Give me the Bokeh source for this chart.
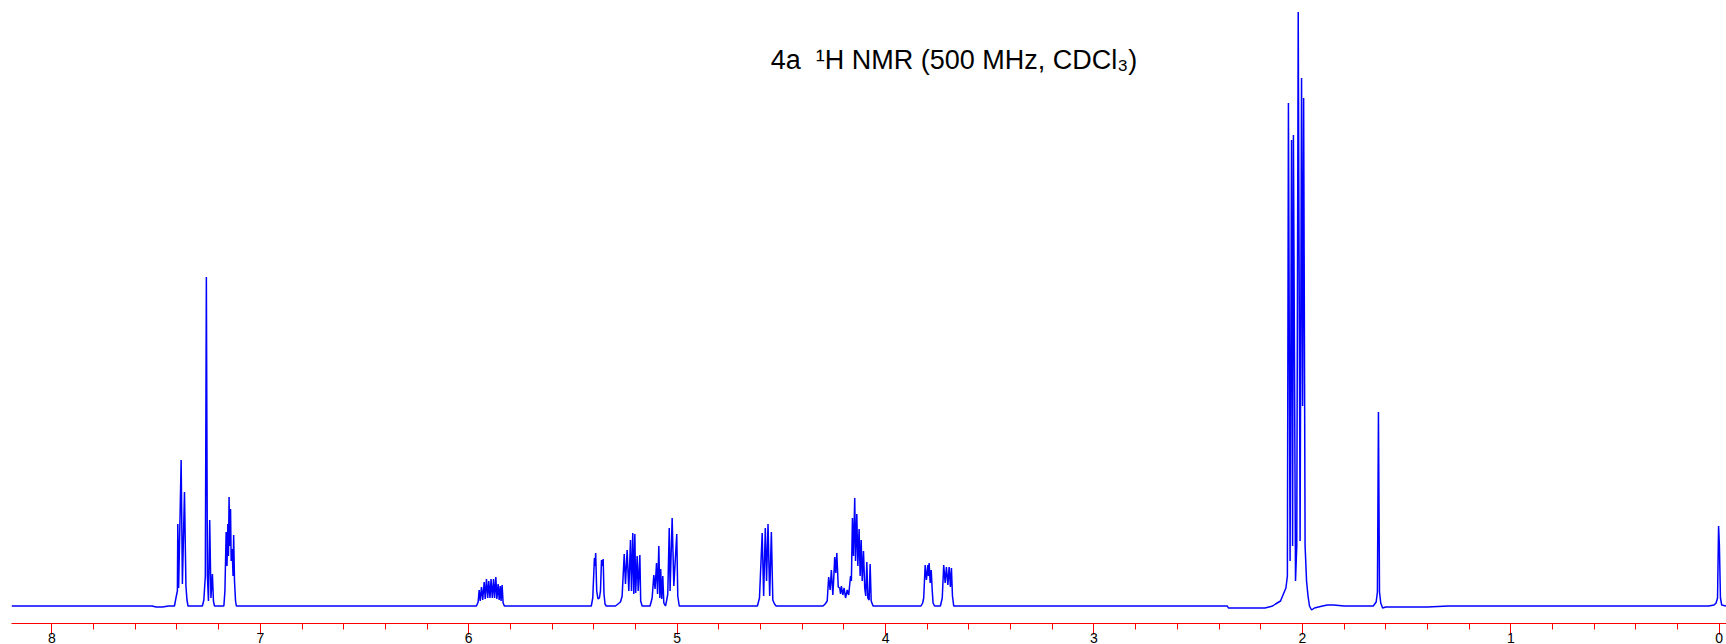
from bokeh.plotting import figure
from bokeh.models import Range1d, FixedTicker, Label
from bokeh.embed import file_html
from bokeh.resources import INLINE

# ---------------- data (ppm, intensity) ----------------
base_left_ppm = [8.194, 7.52, 7.50, 7.47, 7.44]
base_left_int = [0, 0, -1, -1, 0]

arom_ppm = [7.412, 7.405, 7.398, 7.396, 7.392, 7.380, 7.374, 7.364, 7.357, 7.352, 7.347,
            7.278, 7.271, 7.264, 7.259, 7.254, 7.249, 7.243, 7.237, 7.230, 7.225, 7.220,
            7.175, 7.170, 7.164, 7.160, 7.156, 7.153, 7.150, 7.147, 7.143, 7.140, 7.135,
            7.131, 7.128, 7.124, 7.119, 7.115]
arom_int = [0, 8, 15, 82, 18, 146, 22, 114, 20, 6, 0,
            0, 6, 30, 329, 30, 5, 86, 8, 32, 5, 0,
            0, 15, 74, 40, 82, 50, 109, 60, 97, 45, 57,
            30, 71, 25, 5, 0]

olef_ppm = [5.963, 5.955, 5.950, 5.945, 5.939, 5.933, 5.926, 5.921, 5.915, 5.909, 5.904,
            5.898, 5.893, 5.887, 5.881, 5.876, 5.870, 5.865, 5.859, 5.854, 5.849, 5.845,
            5.840, 5.835, 5.829]
olef_int = [0, 4, 16, 5, 19, 6, 24, 7, 27, 8, 25,
            8, 27, 8, 27, 8, 29, 7, 22, 6, 20, 5,
            21, 3, 0]

m54_ppm = [5.412, 5.405, 5.397, 5.394, 5.391, 5.386, 5.380, 5.373, 5.368, 5.363, 5.359,
           5.355, 5.351, 5.346, 5.340]
m54_int = [0, 8, 48, 40, 53, 15, 7, 8, 15, 46, 40, 47, 12, 2, 0]

m52_ppm = [5.296, 5.272, 5.264, 5.254, 5.248, 5.240, 5.232, 5.224, 5.219, 5.213, 5.208,
           5.203, 5.199, 5.192, 5.187, 5.179, 5.175, 5.168]
m52_int = [0, 4, 10, 52, 22, 56, 15, 66, 15, 73, 12, 72, 13, 50, 15, 51, 5, 0]

m51_ppm = [5.130, 5.120, 5.112, 5.106, 5.099, 5.094, 5.088, 5.083, 5.079, 5.074, 5.069,
           5.064, 5.056, 5.051]
m51_int = [0, 8, 31, 17, 43, 12, 60, 8, 37, 7, 30, 3, 0, 5]

m50_ppm = [5.045, 5.038, 5.034, 5.024, 5.016, 5.002, 4.997, 4.990]
m50_int = [12, 78, 15, 88, 20, 72, 10, 0]

m46_ppm = [4.615, 4.605, 4.592, 4.585, 4.577, 4.571, 4.564, 4.556, 4.548, 4.541, 4.533, 4.525]
m46_int = [0, 8, 73, 10, 78, 25, 82, 10, 74, 6, 2, 0]

m42_ppm = [4.300, 4.290, 4.280, 4.273, 4.266, 4.260, 4.253, 4.249, 4.244, 4.239, 4.234,
           4.227, 4.220, 4.216, 4.212, 4.205, 4.199, 4.192, 4.184, 4.177, 4.168, 4.164,
           4.159, 4.154, 4.148, 4.144, 4.138, 4.133, 4.127, 4.122, 4.117, 4.112, 4.106,
           4.100, 4.095, 4.090, 4.085, 4.079, 4.074, 4.069, 4.060]
m42_int = [0, 2, 5, 29, 16, 36, 11, 26, 49, 33, 53,
           19, 18, 12, 20, 11, 18, 8, 16, 11, 30, 25,
           88, 50, 108, 45, 92, 40, 77, 30, 66, 25, 55,
           18, 10, 44, 8, 6, 42, 5, 0]

m37_ppm = [3.830, 3.822, 3.817, 3.810, 3.804, 3.797, 3.794, 3.791, 3.786, 3.781, 3.776,
           3.772, 3.765, 3.737, 3.728, 3.721, 3.714, 3.708, 3.701, 3.695, 3.689, 3.684,
           3.679, 3.673]
m37_int = [0, 3, 8, 41, 26, 41, 30, 43, 23, 36, 15,
           3, 0, 0, 8, 41, 23, 39, 21, 39, 19, 38,
           10, 0]

acetyl_ppm = [2.360, 2.355, 2.250, 2.180, 2.143, 2.129, 2.105, 2.091, 2.079, 2.072, 2.067,
              2.059, 2.052, 2.047, 2.043, 2.033, 2.027, 2.020, 2.011, 2.004, 1.999, 1.994,
              1.987, 1.980, 1.973, 1.966, 1.956, 1.942, 1.923, 1.903, 1.880, 1.850, 1.800]
acetyl_int = [0, -2, -2, -2, 0, 2, 5, 12, 18, 30, 503,
              45, 466, 60, 471, 25, 60, 594, 65, 528, 200, 508,
              60, 25, 10, 0, -4, -2, -1, 0, 1, 1, 0]

water_ppm = [1.660, 1.646, 1.640, 1.635, 1.630, 1.624, 1.615, 1.600, 1.500, 1.400, 1.300]
water_int = [0, 4, 14, 194, 14, 3, -2, -1, -1, -1, 0]

tms_ppm = [0.050, 0.025, 0.015, 0.008, 0.003, -0.001, -0.006, -0.012, -0.035]
tms_int = [0, 1, 3, 8, 80, 60, 8, 1, 0]

major_ticks = [0, 1, 2, 3, 4, 5, 6, 7, 8]
minor_ticks = [round(0.2 * i, 1) for i in range(0, 41)]

title_text = "4a\u00a0 \u00b9H NMR (500 MHz, CDCl\u2083)"

# ---------------- assemble trace ----------------
ppm = (base_left_ppm + arom_ppm + olef_ppm + m54_ppm + m52_ppm + m51_ppm + m50_ppm +
       m46_ppm + m42_ppm + m37_ppm + acetyl_ppm + water_ppm + tms_ppm)
inten = (base_left_int + arom_int + olef_int + m54_int + m52_int + m51_int + m50_int +
         m46_int + m42_int + m37_int + acetyl_int + water_int + tms_int)

p = figure(frame_width=1715, frame_height=615,
           x_range=Range1d(8.194, -0.035), y_range=Range1d(-17.5, 597.5),
           output_backend="svg", toolbar_location=None, y_axis_location=None,
           min_border_left=11, min_border_right=0, min_border_top=8, min_border_bottom=0)
p.outline_line_color = None
p.xgrid.visible = False
p.ygrid.visible = False
p.background_fill_color = "white"
p.border_fill_color = "white"

p.line(ppm, inten, line_color="#0000FF", line_width=1.5)

ax = p.xaxis[0]
ax.ticker = FixedTicker(ticks=major_ticks, minor_ticks=minor_ticks)
ax.axis_line_color = "#FF0000"
ax.axis_line_width = 1
ax.major_tick_line_color = "#FF0000"
ax.minor_tick_line_color = "#FF0000"
ax.major_tick_in = 0
ax.major_tick_out = 11
ax.minor_tick_in = 0
ax.minor_tick_out = 6
ax.major_label_standoff = -2
ax.major_label_text_font = "Liberation Sans"
ax.major_label_text_font_size = "14px"
ax.major_label_text_color = "black"

p.add_layout(Label(x=3.672, y=546, text=title_text, text_align="center",
                   text_baseline="alphabetic", text_font="Liberation Sans",
                   text_font_size="27px", text_color="black"))

open("out.html", "w").write(file_html(p, INLINE))
